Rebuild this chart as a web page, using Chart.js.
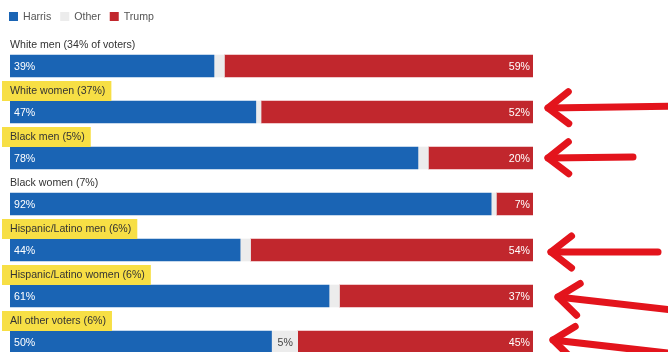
<!DOCTYPE html>
<html>
<head>
<meta charset="utf-8">
<script src="https://cdn.jsdelivr.net/npm/chart.js@4/dist/chart.umd.min.js"></script>
<style>
  html, body { margin: 0; padding: 0; background: #ffffff; overflow: hidden; }
  #wrap { width: 668px; height: 352px; overflow: hidden; position: relative; }
  canvas { display: block; }
</style>
</head>
<body>
<div id="wrap"><canvas id="c" width="668" height="372"></canvas></div>
<script>
const categories = ['White men (34% of voters)', 'White women (37%)', 'Black men (5%)', 'Black women (7%)', 'Hispanic/Latino men (6%)', 'Hispanic/Latino women (6%)', 'All other voters (6%)'];
const harris = [39, 47, 78, 92, 44, 61, 50];
const other = [2, 1, 2, 1, 2, 2, 5];
const trump = [59, 52, 20, 7, 54, 37, 45];
const highlighted = [false, true, true, false, true, true, true];
const arrowed = [false, true, true, false, true, true, true];
const seriesNames = ['Harris', 'Other', 'Trump'];

const COLORS = { Harris: '#1a64b4', Other: '#ececec', Trump: '#c1272d' };
const FONT = '"Liberation Sans", Arial, sans-serif';
const FS = '10.6px ';

// arrow shapes (tail offset relative to tip), style only
const arrowStyle = [null,
  { tipDx: 15, tipDy: -4, tailDx: 135, tailDy: -2 },
  { tipDx: 15, tipDy: 0, tailDx: 85, tailDy: -1 },
  null,
  { tipDx: 18, tipDy: 2, tailDx: 107, tailDy: 0 },
  { tipDx: 25, tipDy: 1, tailDx: 140, tailDy: 16 },
  { tipDx: 20, tipDy: -2, tailDx: 140, tailDy: 16 }
];

const overlay = {
  id: 'overlay',
  afterDatasetsDraw(chart) {
    const ctx = chart.ctx;
    const y = chart.scales.y;
    const area = chart.chartArea;
    ctx.save();
    // legend
    ctx.font = FS + FONT;
    ctx.textBaseline = 'middle';
    let lx = 9;
    seriesNames.forEach(n => {
      ctx.fillStyle = COLORS[n];
      ctx.fillRect(lx, 12, 9, 9);
      ctx.fillStyle = '#555';
      ctx.textAlign = 'left';
      ctx.fillText(n, lx + 14, 17);
      lx += 14 + ctx.measureText(n).width + 9;
    });
    // category labels
    categories.forEach((c, i) => {
      const cy = y.getPixelForValue(i);
      const ty = cy - 21;
      ctx.font = FS + FONT;
      const w = ctx.measureText(c).width;
      if (highlighted[i]) {
        ctx.fillStyle = '#f7df45';
        ctx.fillRect(area.left - 8, ty - 10, w + 14, 20);
      }
      ctx.fillStyle = '#333';
      ctx.textAlign = 'left';
      ctx.fillText(c, area.left, ty);
    });
    // value labels
    const mH = chart.getDatasetMeta(0), mO = chart.getDatasetMeta(1), mT = chart.getDatasetMeta(2);
    ctx.font = FS + FONT;
    categories.forEach((c, i) => {
      const bh = mH.data[i];
      ctx.fillStyle = '#ffffff';
      ctx.textAlign = 'left';
      ctx.fillText(harris[i] + '%', bh.base + 4, bh.y + 1);
      const bt = mT.data[i];
      ctx.textAlign = 'right';
      ctx.fillText(trump[i] + '%', bt.x - 3, bt.y + 1);
      if (other[i] >= 5) {
        const bo = mO.data[i];
        ctx.fillStyle = '#444';
        ctx.textAlign = 'left';
        ctx.fillText(other[i] + '%', bo.base + 6, bo.y + 1);
      }
    });
    // arrows
    ctx.strokeStyle = '#e3141c';
    ctx.lineWidth = 7;
    ctx.lineCap = 'round';
    ctx.lineJoin = 'round';
    categories.forEach((c, i) => {
      if (!arrowed[i]) return;
      const s = arrowStyle[i];
      const tx = area.right + s.tipDx, tyy = y.getPixelForValue(i) + s.tipDy;
      const ex = tx + s.tailDx, ey = tyy + s.tailDy;
      const ang = Math.atan2(ey - tyy, ex - tx);
      ctx.beginPath();
      ctx.moveTo(tx, tyy);
      ctx.lineTo(ex, ey);
      ctx.stroke();
      const L = 26, a = 0.66;
      ctx.beginPath();
      ctx.moveTo(tx + L * Math.cos(ang - a), tyy + L * Math.sin(ang - a));
      ctx.lineTo(tx, tyy);
      ctx.lineTo(tx + L * Math.cos(ang + a), tyy + L * Math.sin(ang + a));
      ctx.stroke();
    });
    ctx.restore();
  }
};

const values = { Harris: harris, Other: other, Trump: trump };
new Chart(document.getElementById('c'), {
  type: 'bar',
  data: {
    labels: categories,
    datasets: seriesNames.map(n => ({
      label: n,
      data: values[n],
      backgroundColor: COLORS[n],
      borderWidth: 0,
      barThickness: 22
    }))
  },
  options: {
    indexAxis: 'y',
    responsive: false,
    animation: false,
    layout: { padding: { top: 43, left: 10, right: 135, bottom: 7 } },
    plugins: { legend: { display: false }, tooltip: { enabled: false } },
    scales: {
      x: { stacked: true, min: 0, max: 100, display: false },
      y: { stacked: true, display: false }
    }
  },
  plugins: [overlay]
});
</script>
</body>
</html>
